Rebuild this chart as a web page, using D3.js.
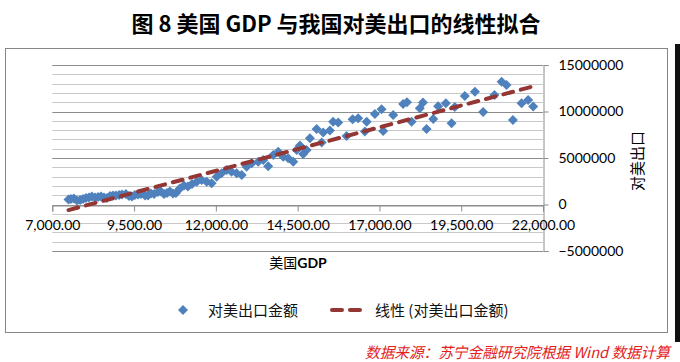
<!DOCTYPE html>
<html>
<head>
<meta charset="utf-8">
<script src="https://cdn.jsdelivr.net/npm/d3@7"></script>
<style>
  body { margin: 0; background: #fff; }
  text { font-family: "Noto Sans CJK SC", "Noto Sans", sans-serif; }
  .num { font-family: Lato, "Open Sans", sans-serif; }
</style>
</head>
<body>
<svg width="680" height="362"></svg>
<script>
// US GDP (billion USD) vs China exports to the US (10k USD), quarterly
var gdp = [7495, 7570, 7660, 7755, 7850, 7940, 8030, 8120, 8210, 8305,
  8400, 8490, 8580, 8670, 8765, 8855, 8945, 9040, 9130, 9250,
  9345, 9435, 9525, 9620, 9710, 9835, 9925, 10015, 10110, 10230,
  10320, 10415, 10505, 10595, 10690, 10780, 10900, 11025, 11145, 11270,
  11415, 11565, 11720, 11870, 12025, 12175, 12330, 12480, 12635, 12790,
  12940, 13095, 13295, 13450, 13600, 13755, 13905, 14060, 14210, 14365,
  14470, 14570, 14670, 14775, 14875, 15080, 15235, 15280, 15485, 15585,
  15740, 15995, 16180, 16350, 16555, 16610, 16860, 17065, 17115, 17420,
  17725, 17840, 17985, 18235, 18330, 18440, 18645, 18795, 19030, 19205,
  19305, 19610, 19920, 20170, 20515, 20735, 20885, 21080, 21345, 21545,
  21700];
var exportsUS = [540000, 590000, 645000, 430000, 485000, 590000, 700000, 750000, 860000, 750000,
  805000, 860000, 750000, 700000, 915000, 970000, 970000, 1020000, 1075000, 1130000,
  915000, 860000, 1020000, 1075000, 1130000, 970000, 970000, 1180000, 1130000, 1345000,
  1400000, 1130000, 1235000, 1400000, 1180000, 1235000, 1720000, 2045000, 1935000, 2205000,
  2450000, 2635000, 2450000, 2280000, 2990000, 3355000, 3710000, 3525000, 3355000, 3170000,
  4065000, 4430000, 4600000, 4785000, 4110000, 5320000, 5680000, 5140000, 4970000, 4600000,
  5860000, 6345000, 5430000, 5860000, 7120000, 8120000, 6665000, 7740000, 7955000, 8905000,
  8815000, 7365000, 9160000, 9270000, 7850000, 8905000, 9730000, 10235000, 7905000, 9625000,
  10805000, 10990000, 8905000, 10345000, 10970000, 8120000, 9195000, 10560000, 10880000, 8730000,
  10485000, 11665000, 12130000, 9945000, 11775000, 13205000, 12850000, 9085000, 10880000, 11235000,
  10540000];

var xTicks = [7000, 9500, 12000, 14500, 17000, 19500, 22000];
var yTicks = [-5000000, 0, 5000000, 10000000, 15000000];

var svg = d3.select("svg");

var x = d3.scaleLinear().domain([7000, 22000]).range([52.3, 543]);
var y = d3.scaleLinear().domain([-5000000, 15000000]).range([251, 65]);

// outer frame
svg.append("rect")
  .attr("x", 5.5).attr("y", 48.5).attr("width", 662).attr("height", 284)
  .attr("fill", "none").attr("stroke", "#868686");
svg.append("rect")
  .attr("x", 675).attr("y", 44).attr("width", 5).attr("height", 298)
  .attr("fill", "#111");

// title
svg.append("text")
  .attr("x", 336).attr("y", 32)
  .attr("text-anchor", "middle")
  .attr("font-size", 22).attr("font-weight", "bold")
  .text("图 8 美国 GDP 与我国对美出口的线性拟合");

// grid lines: minor every 1,000,000, major every 5,000,000
var minor = d3.range(-5000000, 15000001, 1000000);
svg.append("g")
  .selectAll("line")
  .data(minor)
  .enter().append("line")
  .attr("x1", x(7000)).attr("x2", x(22000))
  .attr("y1", function(d) { return Math.round(y(d)) + 0.5; })
  .attr("y2", function(d) { return Math.round(y(d)) + 0.5; })
  .attr("stroke", function(d) { return d % 5000000 === 0 ? "#8c8c8c" : "#c8c8c8"; });

// right y axis
var yAxis = d3.axisRight(y).tickValues(yTicks).tickSize(5).tickPadding(10)
  .tickFormat(d3.format("d"));
var gy = svg.append("g").attr("transform", "translate(" + (Math.round(x(22000)) + 0.5) + ",0)").call(yAxis);
gy.select(".domain").attr("stroke", "#8c8c8c");
gy.selectAll(".tick line").attr("stroke", "#8c8c8c");
gy.selectAll(".tick text").attr("class", "num").attr("font-size", 14).attr("fill", "#000");

// x axis at y = 0
var xAxis = d3.axisBottom(x).tickValues(xTicks).tickSize(6).tickPadding(9)
  .tickFormat(d3.format(",.2f"));
var gx = svg.append("g").attr("transform", "translate(0," + (Math.round(y(0)) + 0.5) + ")").call(xAxis);
gx.select(".domain").attr("stroke", "#8c8c8c");
gx.selectAll(".tick line").attr("stroke", "#8c8c8c");
gx.selectAll(".tick text").attr("class", "num").attr("font-size", 14).attr("fill", "#000");

// points
var pts = gdp.map(function(g, i) { return [g, exportsUS[i]]; });
var diamond = "M0,-5L5,0L0,5L-5,0Z";
svg.append("g")
  .selectAll("path")
  .data(pts)
  .enter().append("path")
  .attr("d", diamond)
  .attr("transform", function(d) { return "translate(" + x(d[0]) + "," + y(d[1]) + ")"; })
  .attr("fill", "#4f81bd");

// linear fit (least squares)
var mx = d3.mean(gdp), my = d3.mean(exportsUS);
var sxy = d3.sum(pts, function(d) { return (d[0] - mx) * (d[1] - my); });
var sxx = d3.sum(pts, function(d) { return (d[0] - mx) * (d[0] - mx); });
var slope = sxy / sxx, intercept = my - slope * mx;
var ext = d3.extent(gdp);
svg.append("line")
  .attr("x1", x(ext[0])).attr("y1", y(intercept + slope * ext[0]))
  .attr("x2", x(ext[1])).attr("y2", y(intercept + slope * ext[1]))
  .attr("stroke", "#943634").attr("stroke-width", 4)
  .attr("stroke-linecap", "round").attr("stroke-dasharray", "10,8");

// axis titles
var xt = svg.append("text").attr("x", 298).attr("y", 268).attr("text-anchor", "middle").attr("font-size", 14);
xt.append("tspan").text("美国");
xt.append("tspan").attr("font-weight", "bold").attr("font-family", "Lato, sans-serif").text("GDP");

svg.append("text")
  .attr("transform", "translate(643,161) rotate(-90)")
  .attr("text-anchor", "middle").attr("font-size", 15)
  .text("对美出口");

// legend
var lg = svg.append("g");
lg.append("path").attr("d", diamond).attr("transform", "translate(183,310)").attr("fill", "#4f81bd");
lg.append("text").attr("x", 208).attr("y", 315.5).attr("font-size", 15).attr("fill", "#111").text("对美出口金额");
lg.append("line")
  .attr("x1", 332).attr("x2", 362).attr("y1", 310).attr("y2", 310)
  .attr("stroke", "#943634").attr("stroke-width", 4)
  .attr("stroke-linecap", "round").attr("stroke-dasharray", "10,8");
lg.append("text").attr("x", 375).attr("y", 315.5).attr("font-size", 15).attr("fill", "#111").text("线性 (对美出口金额)");

// source note
svg.append("text")
  .attr("x", 365).attr("y", 358)
  .attr("font-size", 15).attr("textLength", 305).attr("lengthAdjust", "spacingAndGlyphs")
  .attr("font-style", "italic").attr("fill", "#e3211c")
  .text("数据来源：苏宁金融研究院根据 Wind 数据计算");
</script>
</body>
</html>
